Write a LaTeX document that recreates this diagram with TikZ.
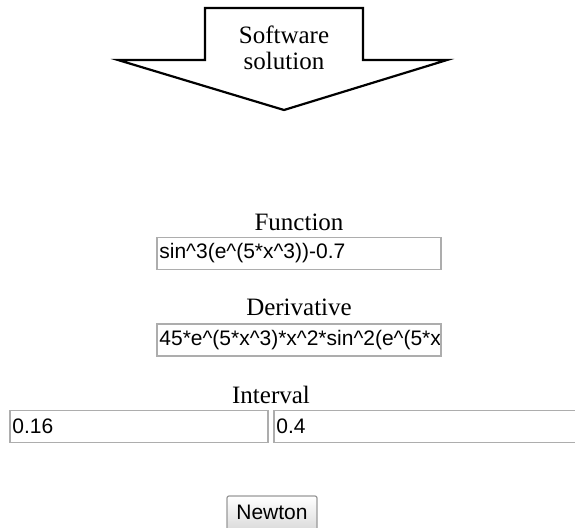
\documentclass[tikz,border=0pt]{standalone}
\usepackage{fontspec}
\setmainfont{Liberation Serif}
\newfontfamily\fieldfont{Liberation Sans}
\usetikzlibrary{positioning}

\begin{document}
\begin{tikzpicture}[x=1pt, y=-1pt,
    caption/.style={font=\fontsize{25}{26}\selectfont, inner sep=0pt},
    field/.style={draw=black!32, line width=1.6pt, minimum height=32pt, inner sep=0pt},
    entry/.style={font=\fieldfont\fontsize{21}{24}\selectfont, inner sep=0pt, anchor=west},
    button/.style={draw=black!40, line width=1.2pt, rounded corners=2pt, top color=white, bottom color=black!15}]
    \useasboundingbox (0,0) rectangle (575,527);

    % Block arrow
    \draw[line width=2.2pt, line join=miter, fill=white]
        (205,8) -- (363,8) -- (363,60) -- (447,60) -- (284,110) -- (118,60) -- (205,60) -- cycle;
    \node[caption, align=center] (title) at (284,48) {Software\\solution};

    % Function
    \node[field, minimum width=284pt] (fbox) at (299,253.5) {};
    \node[caption, above=6pt of fbox] (flabel) {Function};
    \node[entry] (ftext) at ([xshift=3pt]fbox.west) {sin\^{}3(e\^{}(5*x\^{}3))-0.7};

    % Derivative
    \node[field, minimum width=284pt] (dbox) at (299,340) {};
    \node[caption, above=7pt of dbox] (dlabel) {Derivative};
    \begin{scope}
        \clip (dbox.south west) rectangle ([xshift=-2pt]dbox.north east);
        \node[entry] (dtext) at ([xshift=3pt]dbox.west) {45*e\^{}(5*x\^{}3)*x\^{}2*sin\^{}2(e\^{}(5*x};
    \end{scope}

    % Interval
    \node[field, minimum width=258pt] (abox) at (139,426.5) {};
    \node[field, minimum width=304pt] (bbox) at (426,426.5) {};
    \node[caption] (ilabel) at (271,395) {Interval};
    \node[entry] (atext) at ([xshift=3pt]abox.west) {0.16};
    \node[entry] (btext) at ([xshift=3pt]bbox.west) {0.4};

    % Button
    \node[button, minimum width=90pt, minimum height=36pt, inner sep=0pt] (newton) at (272,514) {};
    \node[entry, anchor=center] (ntext) at (272,512) {Newton};
\end{tikzpicture}
\end{document}
